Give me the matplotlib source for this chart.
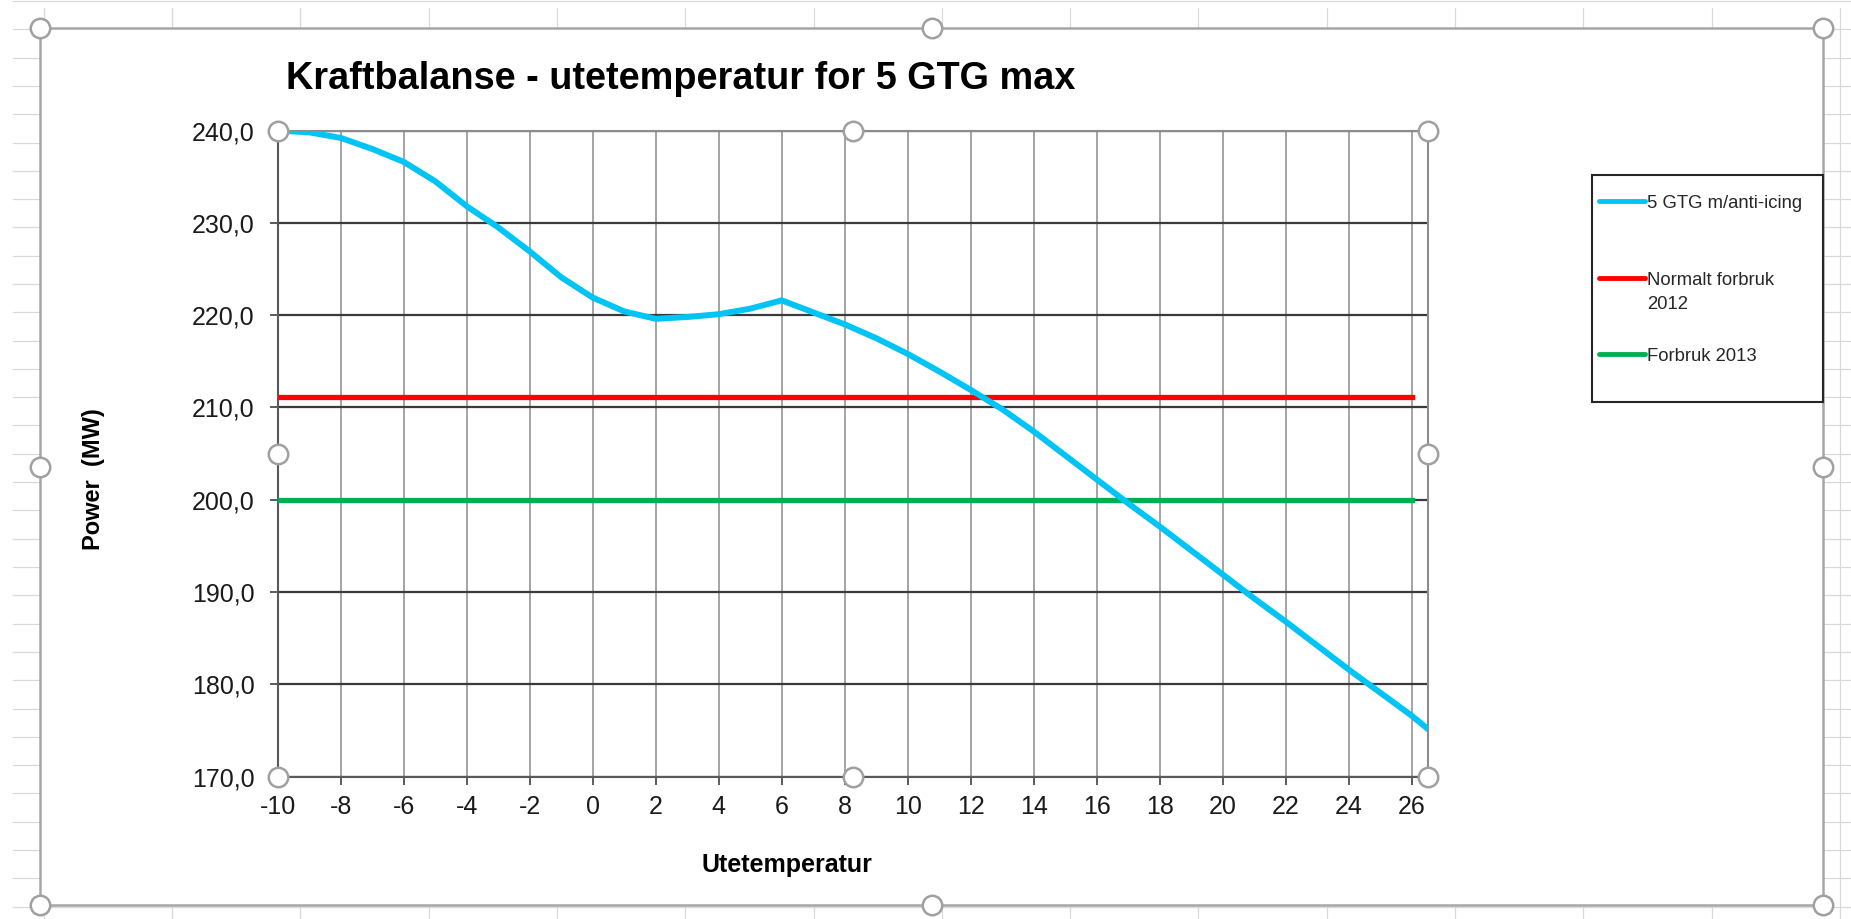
import numpy as np
import matplotlib
matplotlib.use('Agg')
import matplotlib.pyplot as plt
from matplotlib.lines import Line2D
from matplotlib.patches import Rectangle
from matplotlib.ticker import FuncFormatter

plt.rcParams['font.family'] = ['Liberation Sans', 'DejaVu Sans']
plt.rcParams['axes.unicode_minus'] = False

# values
temp = [-10, -9, -8, -7, -6, -5, -4, -3, -2, -1, 0, 1, 2, 3, 4, 5, 6, 7, 8, 9,
        10, 11, 12, 13, 14, 15, 16, 17, 18, 19, 20, 21, 22, 23, 24, 25, 26, 26.5]
power_gtg = [240.0, 239.8, 239.2, 238.0, 236.6, 234.5, 231.8, 229.5, 226.9, 224.1,
             221.9, 220.4, 219.6, 219.8, 220.1, 220.7, 221.6, 220.3, 219.0, 217.5,
             215.8, 213.9, 211.9, 209.8, 207.4, 204.8, 202.2, 199.6, 197.1, 194.5,
             191.9, 189.3, 186.8, 184.2, 181.6, 179.1, 176.6, 175.2]
flat_x = [-10, 26]
normalt_2012 = [211.1, 211.1]
forbruk_2013 = [200.0, 200.0]

labels = ['5 GTG m/anti-icing', 'Normalt forbruk\n2012', 'Forbruk 2013']
colors = ['#00C4F5', '#FF0000', '#00B050']

W, H = 1851, 919
fig = plt.figure(figsize=(W / 100, H / 100), dpi=100)


def fx(px):
    return px / W


def fy(py):
    return 1 - py / H


# spreadsheet cells behind the chart
for y in np.arange(1, H, 28.3):
    fig.add_artist(Line2D([fx(13), 1], [fy(y), fy(y)], color='#D9D9D9', lw=0.9, zorder=-3))
for x in np.arange(43.7, W, 128.3):
    fig.add_artist(Line2D([fx(x), fx(x)], [fy(8), 0], color='#D9D9D9', lw=0.9, zorder=-3))

# chart area frame
fig.add_artist(Rectangle((fx(40), fy(905)), fx(1823) - fx(40), fy(28) - fy(905),
                         transform=fig.transFigure, facecolor='white',
                         edgecolor='#A6A6A6', lw=1.8, zorder=-1))

ax = fig.add_axes([fx(277.7), fy(776.7), fx(1427.5) - fx(277.7), fy(130.5) - fy(776.7)])

ax.plot(temp, power_gtg, color=colors[0], lw=4.3, solid_joinstyle='round', zorder=4)
ax.plot(flat_x, normalt_2012, color=colors[1], lw=3.8, zorder=3)
ax.plot(flat_x, forbruk_2013, color=colors[2], lw=3.8, zorder=3)

ax.set_xlim(-10, 26.5)
ax.set_ylim(170, 240)
ax.set_xticks(range(-10, 27, 2))
ax.set_yticks(range(170, 241, 10))
ax.yaxis.set_major_formatter(FuncFormatter(lambda v, p: f'{v:.1f}'.replace('.', ',')))

ax.set_axisbelow(True)
ax.yaxis.grid(True, color='#3A3A3A', lw=1.6)
ax.xaxis.grid(True, color='#8C8C8C', lw=1.1)
for side in ['left', 'bottom']:
    ax.spines[side].set_color('#595959')
    ax.spines[side].set_linewidth(1.5)
for side in ['top', 'right']:
    ax.spines[side].set_color('#8C8C8C')
    ax.spines[side].set_linewidth(1.5)

ax.tick_params(direction='out', length=5.5, width=1.2, color='#404040',
               labelsize=18, labelcolor='#1A1A1A')
ax.tick_params(axis='y', pad=11)
ax.tick_params(axis='x', pad=8)

fig.text(fx(286), fy(89), 'Kraftbalanse - utetemperatur for 5 GTG max',
         fontsize=27.3, fontweight='bold', ha='left', va='baseline')
fig.text(fx(787), fy(872), 'Utetemperatur', fontsize=18, fontweight='bold',
         ha='center', va='baseline')
fig.text(fx(93), fy(479), 'Power  (MW)', fontsize=17, fontweight='bold',
         rotation=90, ha='center', va='center')

# legend box
fig.add_artist(Rectangle((fx(1592), fy(402)), fx(1823) - fx(1592), fy(175) - fy(402),
                         transform=fig.transFigure, facecolor='white',
                         edgecolor='#262626', lw=1.5, zorder=5))
for lab, col, ly in zip(labels, colors, [201, 278, 354]):
    fig.add_artist(Line2D([fx(1599), fx(1645)], [fy(ly), fy(ly)], color=col,
                          lw=3.5, solid_capstyle='round', zorder=6))
    for i, part in enumerate(lab.split('\n')):
        fig.text(fx(1647), fy(ly + 6.7 + 24 * i), part, fontsize=13.3, color='#262626',
                 ha='left', va='baseline', zorder=6)

# selection handles
handle = dict(marker='o', ms=14, mfc='white', mec='#A0A0A0', mew=1.8, ls='none', zorder=7)
for hx, hy in [(40, 28), (931.5, 28), (1823, 28), (40, 466.5), (1823, 466.5),
               (40, 905), (931.5, 905), (1823, 905)]:
    fig.add_artist(Line2D([fx(hx)], [fy(hy)], transform=fig.transFigure, **handle))
for hx, hy in [(0, 1), (0.5, 1), (1, 1), (0, 0.5), (1, 0.5), (0, 0), (0.5, 0), (1, 0)]:
    fig.add_artist(Line2D([hx], [hy], transform=ax.transAxes, clip_on=False, **handle))

fig.savefig('out.png', dpi=100)
